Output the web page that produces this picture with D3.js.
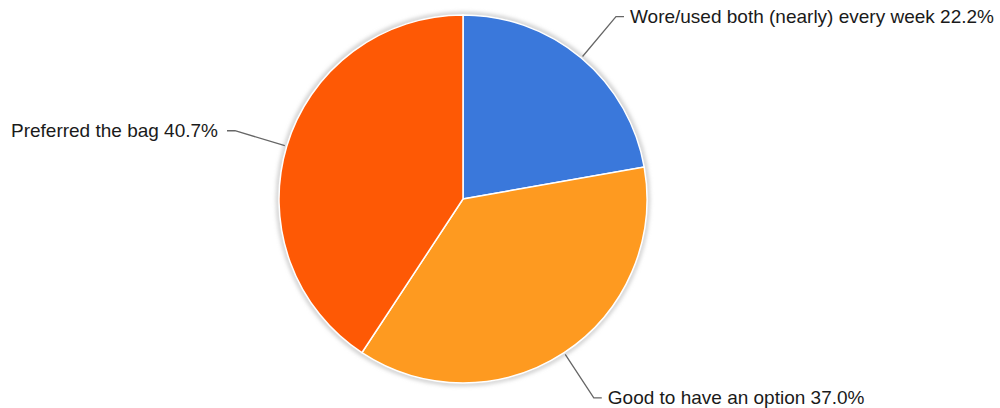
<!DOCTYPE html>
<html><head><meta charset="utf-8">
<script src="https://cdn.jsdelivr.net/npm/d3@7"></script>
<style>html,body{margin:0;padding:0;background:#fff;}svg{display:block;}</style>
</head><body>
<svg id="chart" width="1000" height="408"></svg>
<script>
const categories = ["Wore/used both (nearly) every week", "Good to have an option", "Preferred the bag"];
const values = [22.2, 37.0, 40.7];
const colors = ["#3a78db", "#fe9a20", "#fe5905"];

const W = 1000, H = 408;
const cx = 463, cy = 199, r = 184;
const svg = d3.select("#chart");
const defs = svg.append("defs");
const f = defs.append("filter").attr("id","sh").attr("x","-20%").attr("y","-20%").attr("width","140%").attr("height","140%");
f.append("feGaussianBlur").attr("stdDeviation", 2);

const g = svg.append("g").attr("transform", `translate(${cx},${cy})`);
g.append("circle").attr("r", r + 1).attr("fill", "none").attr("stroke", "#bbb").attr("stroke-width", 3).attr("filter", "url(#sh)");

const pie = d3.pie().sort(null).value(d => d)(values);
const arc = d3.arc().innerRadius(0).outerRadius(r);
g.selectAll("path.slice").data(pie).join("path").attr("class","slice")
  .attr("d", arc).attr("fill", (d,i) => colors[i]).attr("stroke", "#fff").attr("stroke-width", 1.5);

const fmt = d3.format(".1f");
pie.forEach((d, i) => {
  const a = (d.startAngle + d.endAngle) / 2;
  const p0 = [Math.sin(a) * (r + 2), -Math.cos(a) * (r + 2)];
  const p1 = [Math.sin(a) * 238, -Math.cos(a) * 238];
  const right = Math.sin(a) >= 0;
  const p2 = [p1[0] + (right ? 8 : -8), p1[1]];
  g.append("polyline").attr("points", [p0, p1, p2].map(p => p.join(",")).join(" "))
    .attr("fill", "none").attr("stroke", "#666").attr("stroke-width", 1.3);
  g.append("text").attr("x", p2[0] + (right ? 6 : -9)).attr("y", p2[1])
    .attr("dy", "0.35em").attr("text-anchor", right ? "start" : "end")
    .style("font-family", "'Liberation Sans', Arial, sans-serif").style("font-size", "19px").attr("fill", "#1a1a1a")
    .text(`${categories[i]} ${fmt(values[i])}%`);
});
</script>
</body></html>
